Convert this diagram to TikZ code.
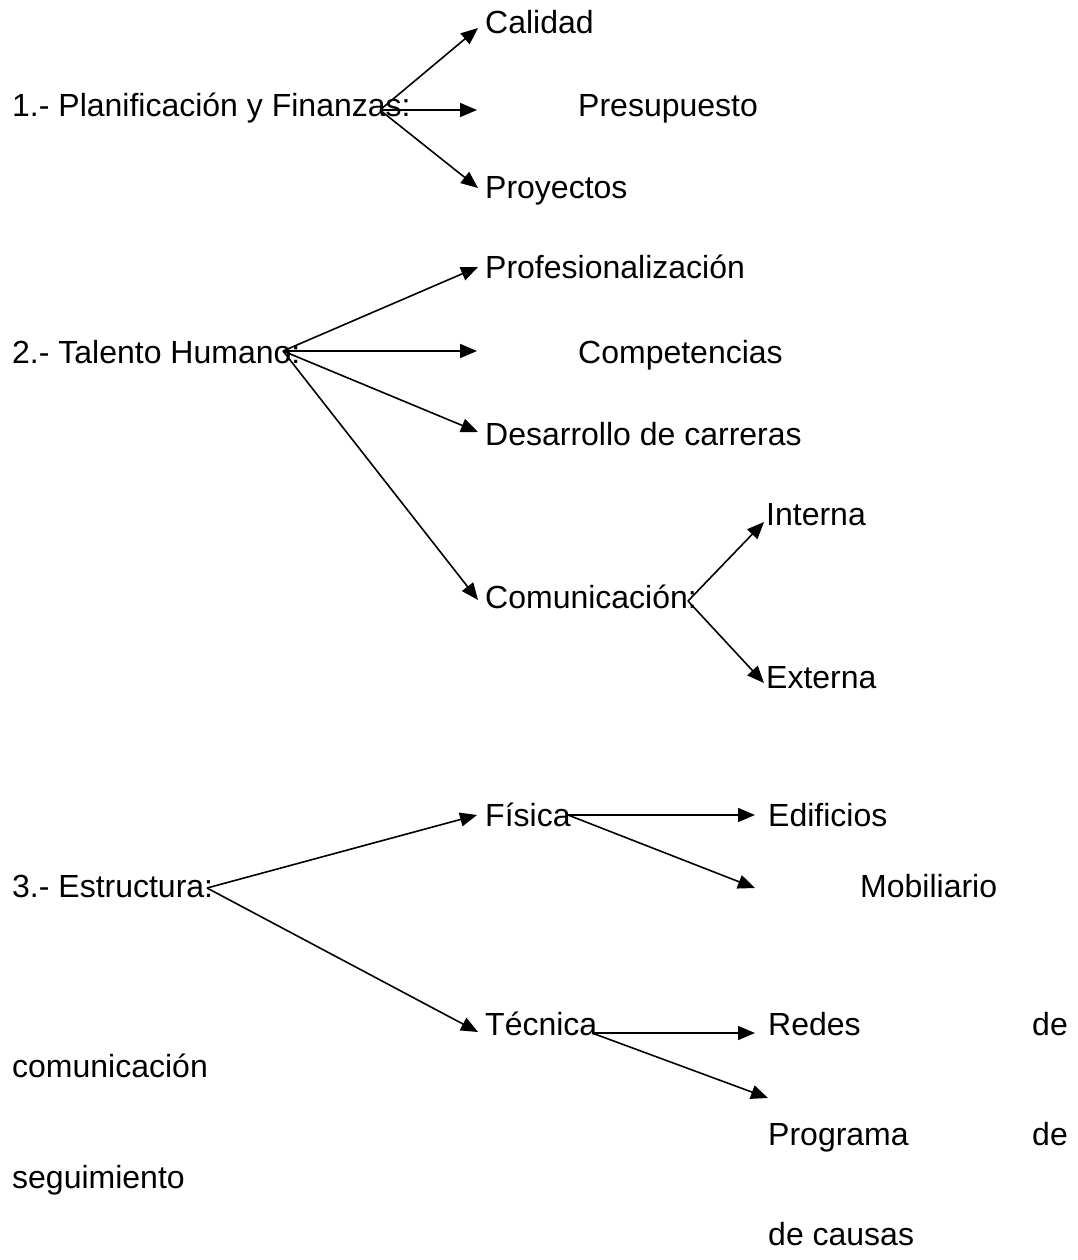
\documentclass[tikz,border=0pt]{standalone}
\usepackage{fontspec}
\setmainfont{Liberation Sans}
\usetikzlibrary{arrows.meta, positioning}
\tikzset{
  item/.style={anchor=base west,inner sep=0pt,font=\fontsize{32}{37}\selectfont},
  itemr/.style={item,anchor=base east},
  line/.style={-{Triangle[length=17pt,width=14pt]},line width=1.6pt}
}

\begin{document}
\begin{tikzpicture}[x=1pt,y=-1pt]
\useasboundingbox (0,0) rectangle (1077,1260);
% 1.- Planificacion y Finanzas
\node[item] (pf) at (12,117) {1.- Planificación y Finanzas:};
\node[item] (cal) at (485,34) {Calidad};
\node[item] (pre) at (578,117) {Presupuesto};
\node[item] (pro) at (485,198) {Proyectos};
\coordinate (pfo) at (380,110);
\coordinate (pret) at (477,110);
\draw[line] (pfo) -- ([xshift=-7pt,yshift=6pt]cal.base west);
\draw[line] (pfo) -- (pret);
\draw[line] (pfo) -- ([xshift=-7pt,yshift=10pt]pro.base west);
% 2.- Talento Humano
\node[item] (th) at (12,363) {2.- Talento Humano:};
\node[item] (prf) at (485,278) {Profesionalización};
\node[item] (cmp) at (578,363) {Competencias};
\node[item] (des) at (485,445) {Desarrollo de carreras};
\node[item] (com) at (485,608) {Comunicación:};
\node[item] (int) at (766,525) {Interna};
\node[item] (ext) at (766,688) {Externa};
\coordinate (tho) at (283,351);
\coordinate (cmpt) at (477,351);
\coordinate (como) at (688,601);
\draw[line] (tho) -- ([xshift=-7pt,yshift=11pt]prf.base west);
\draw[line] (tho) -- (cmpt);
\draw[line] (tho) -- ([xshift=-7pt,yshift=13pt]des.base west);
\draw[line] (tho) -- ([xshift=-7pt,yshift=8pt]com.base west);
\draw[line] (como) -- ([xshift=-2pt,yshift=3pt]int.base west);
\draw[line] (como) -- ([xshift=-2pt,yshift=5pt]ext.base west);
% 3.- Estructura
\node[item] (es) at (12,897) {3.- Estructura:};
\node[item] (fis) at (485,826) {Física};
\node[item] (tec) at (485,1035) {Técnica};
\node[item] (edi) at (768,826) {Edificios};
\node[item] (mob) at (860,897) {Mobiliario};
\node[item] (red) at (768,1035) {Redes};
\node[itemr] (redb) at (1068,1035) {de};
\node[item] (redc) at (12,1077) {comunicación};
\node[item] (prg) at (768,1145) {Programa};
\node[itemr] (prgb) at (1068,1145) {de};
\node[item] (prgc) at (12,1188) {seguimiento};
\node[item] (prgd) at (768,1245) {de causas};
\coordinate (eso) at (207,888);
\coordinate (fiso) at (568,815);
\coordinate (teco) at (592,1033);
\coordinate (mobt) at (755,888);
\coordinate (prgt) at (768,1098);
\draw[line] (eso) -- ([xshift=-8pt,yshift=11pt]fis.base west);
\draw[line] (eso) -- ([xshift=-7pt,yshift=3pt]tec.base west);
\draw[line] (fiso) -- ([xshift=-13pt,yshift=11pt]edi.base west);
\draw[line] (fiso) -- (mobt);
\draw[line] (teco) -- ([xshift=-13pt,yshift=2pt]red.base west);
\draw[line] (teco) -- (prgt);
\end{tikzpicture}
\end{document}
